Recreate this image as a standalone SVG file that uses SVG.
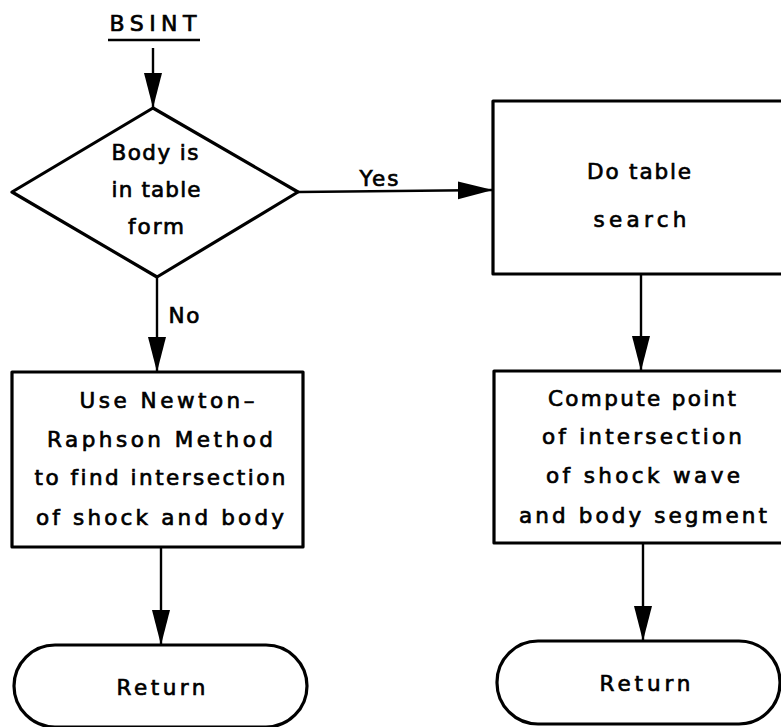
<svg xmlns="http://www.w3.org/2000/svg" width="781" height="727" viewBox="0 0 781 727">
  <style>
    .shape { fill: #ffffff; stroke: #000000; stroke-width: 3.2; stroke-linejoin: round; }
    .flow { fill: none; stroke: #000000; stroke-width: 2.4; }
    .label { font-family: "DejaVu Sans", "Liberation Sans", Arial, sans-serif; font-size: 21.5px; font-variant-ligatures: none; fill: #000000; stroke: #000000; stroke-width: 0.7; text-anchor: middle; }
    .title { font-family: "DejaVu Sans", "Liberation Sans", Arial, sans-serif; font-size: 22px; fill: #000000; stroke: #000000; stroke-width: 0.7; text-anchor: middle; }
  </style>
  <defs>
    <marker id="arrow" markerUnits="userSpaceOnUse" markerWidth="37" markerHeight="22" refX="35" refY="10" orient="auto">
      <path d="M0,1 L35,10 L0,19 Q-1.5,10 0,1 z" fill="#000000"/>
    </marker>
  </defs>
  <rect width="781" height="727" fill="#ffffff"/>

  <!-- entry label -->
  <g id="entry">
    <text class="title" x="153" y="31" textLength="87" lengthAdjust="spacing">BSINT</text>
    <line x1="108" y1="40" x2="200" y2="40" stroke="#000000" stroke-width="2.6"/>
  </g>

  <!-- connectors -->
  <g id="connectors">
    <line class="flow" x1="153" y1="48" x2="153" y2="108" marker-end="url(#arrow)"/>
    <line class="flow" x1="298" y1="192" x2="493" y2="190" marker-end="url(#arrow)"/>
    <line class="flow" x1="157" y1="277" x2="157" y2="372" marker-end="url(#arrow)"/>
    <line class="flow" x1="641" y1="274" x2="641" y2="371" marker-end="url(#arrow)"/>
    <line class="flow" x1="161" y1="547" x2="161" y2="645" marker-end="url(#arrow)"/>
    <line class="flow" x1="643" y1="543" x2="643" y2="641" marker-end="url(#arrow)"/>
    <text class="label" x="379" y="186" textLength="39" lengthAdjust="spacing">Yes</text>
    <text class="label" x="184" y="323" textLength="31" lengthAdjust="spacing">No</text>
  </g>

  <!-- decision -->
  <g id="decision">
    <polygon class="shape" points="153,108 298,192 157,277 12,192"/>
    <text class="label" x="155" y="160" textLength="87" lengthAdjust="spacing">Body is</text>
    <text class="label" x="156" y="197" textLength="89" lengthAdjust="spacing">in table</text>
    <text class="label" x="156" y="234" textLength="56" lengthAdjust="spacing">form</text>
  </g>

  <!-- table search -->
  <g id="table-search">
    <rect class="shape" x="493" y="101" width="295" height="173"/>
    <text class="label" x="639" y="179" textLength="104" lengthAdjust="spacing">Do table</text>
    <text class="label" x="640" y="227" textLength="93" lengthAdjust="spacing">search</text>
  </g>

  <!-- Newton-Raphson -->
  <g id="newton-raphson">
    <rect class="shape" x="12" y="372" width="291" height="175"/>
    <text class="label" x="167" y="408" textLength="175" lengthAdjust="spacing">Use Newton–</text>
    <text class="label" x="160" y="447" textLength="226" lengthAdjust="spacing">Raphson Method</text>
    <text class="label" x="160" y="485" textLength="251" lengthAdjust="spacing">to find intersection</text>
    <text class="label" x="160" y="525" textLength="248" lengthAdjust="spacing">of shock and body</text>
  </g>

  <!-- segment intersection -->
  <g id="segment-intersection">
    <rect class="shape" x="494" y="371" width="294" height="172"/>
    <text class="label" x="642" y="406" textLength="188" lengthAdjust="spacing">Compute point</text>
    <text class="label" x="642" y="444" textLength="200" lengthAdjust="spacing">of intersection</text>
    <text class="label" x="643" y="483" textLength="194" lengthAdjust="spacing">of shock wave</text>
    <text class="label" x="643" y="523" textLength="248" lengthAdjust="spacing">and body segment</text>
  </g>

  <!-- terminals -->
  <g id="return-left">
    <rect class="shape" x="14" y="645" width="293" height="82" rx="41" ry="41"/>
    <text class="label" x="161" y="695" textLength="89" lengthAdjust="spacing">Return</text>
  </g>
  <g id="return-right">
    <rect class="shape" x="497" y="641" width="283" height="83" rx="41" ry="41"/>
    <text class="label" x="645" y="691" textLength="91" lengthAdjust="spacing">Return</text>
  </g>
</svg>
